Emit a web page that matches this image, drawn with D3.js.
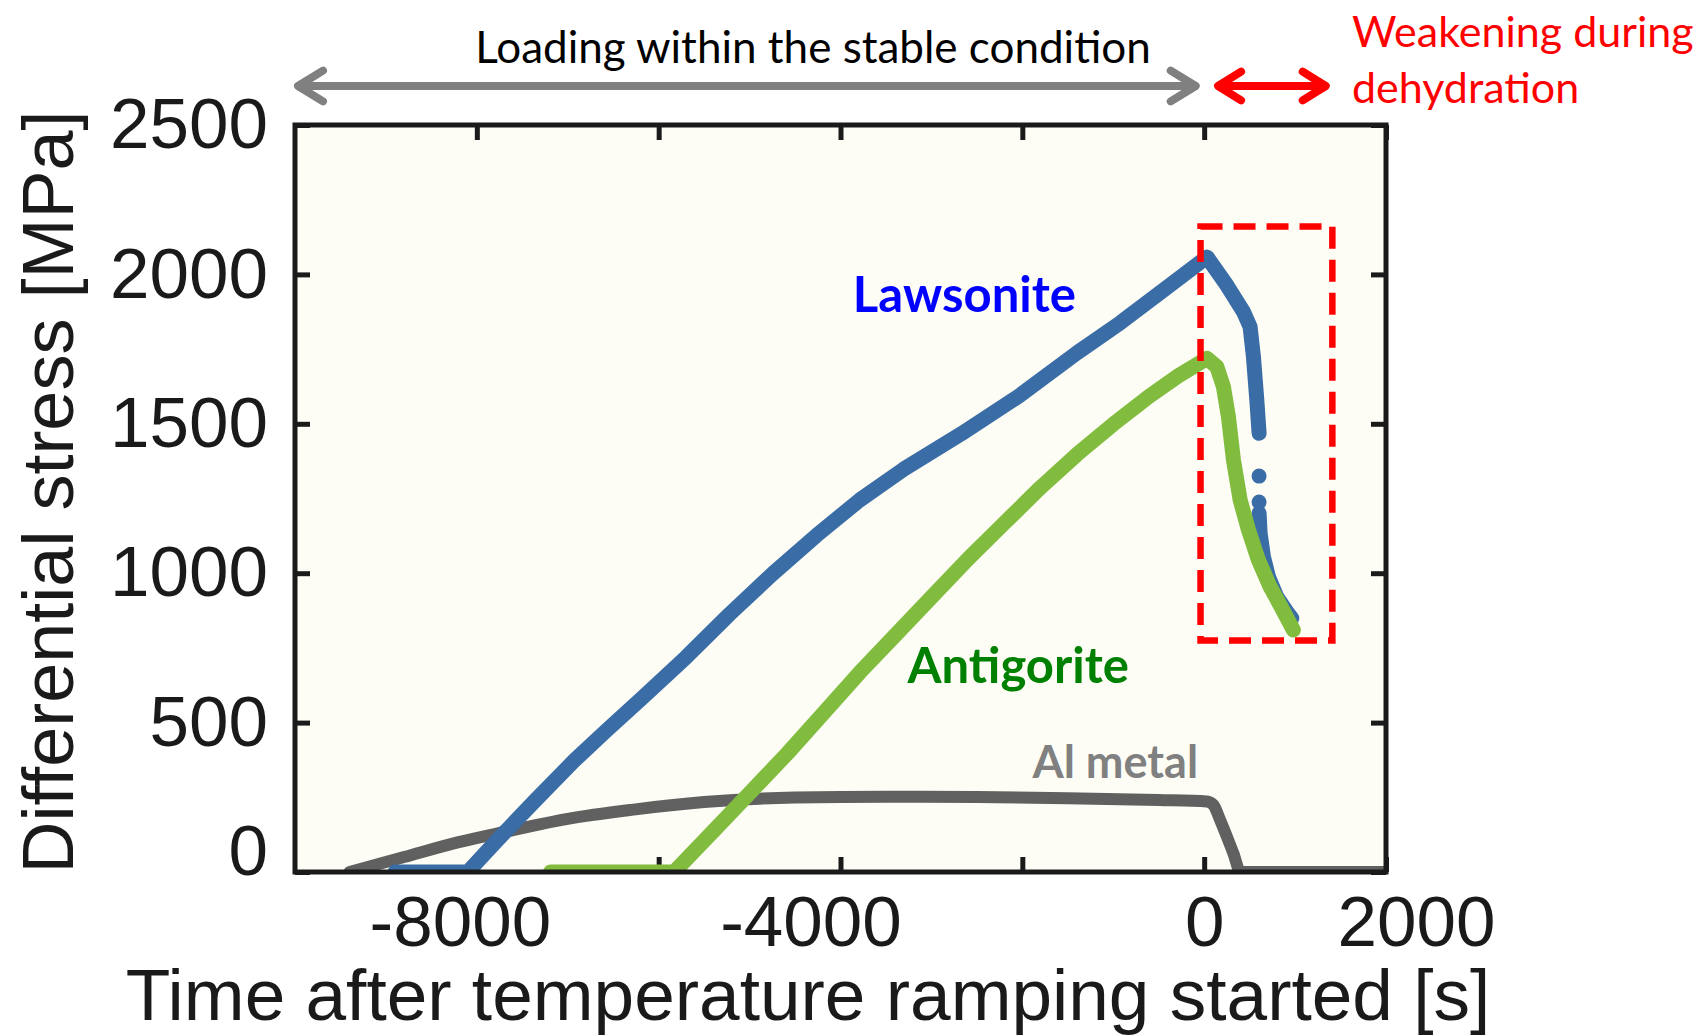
<!DOCTYPE html>
<html>
<head>
<meta charset="utf-8">
<script src="https://cdn.jsdelivr.net/npm/d3@7"></script>
<style>
  body { margin: 0; background: #fff; }
  svg text { font-family: "Liberation Sans", Arial, sans-serif; }
</style>
</head>
<body>
<div id="chart"></div>
<script>
// data (time in s, stress in MPa)
const lawsoniteTime = [-8900, -8100, -7767, -7369, -6931, -6573, -6176, -5698, -5220, -4743, -4266, -3788, -3311, -2674, -2037, -1401, -923, -446, 32, 249, 432, 505, 542, 579, 604, 604, 604, 615, 652, 707, 799, 909, 964]
const lawsoniteStress = [0, 0, 109, 236, 372, 474, 584, 719, 863, 999, 1126, 1245, 1347, 1466, 1593, 1737, 1838, 1948, 2058, 1964, 1875, 1825, 1724, 1580, 1468, null, 1201, 1134, 1055, 988, 921, 871, 849]
const lawsoniteDotTime = [604, 604]
const lawsoniteDotStress = [1325, 1238]

const antigoriteTime = [-7190, -5830, -5379, -4981, -4584, -4186, -3788, -3390, -2992, -2594, -2197, -1799, -1401, -1003, -606, -287, 32, 139, 212, 267, 322, 396, 487, 597, 725, 854, 981]
const antigoriteStress = [0, 0, 143, 270, 397, 532, 668, 795, 922, 1049, 1168, 1287, 1397, 1498, 1592, 1660, 1719, 1691, 1624, 1523, 1379, 1245, 1145, 1044, 955, 883, 810]

const alTime = [-9400, -8800, -8200, -7700, -7000, -6300, -5500, -4500, -3500, -2500, -1500, -500, 30, 100, 176, 322, 400, 2000]
const alStress = [0, 50, 100, 134, 178, 208, 234, 249, 252, 251, 247, 241, 236, 225, 174, 62, 0, 0]

const xTicks = [-8000, -6000, -4000, -2000, 0, 2000]
const xLabels = [-8000, -4000, 0, 2000]
const yTicks = [0, 500, 1000, 1500, 2000, 2500]

const w = 1701
const h = 1035
const plot = { left: 295, right: 1386, top: 125, bottom: 872 }
const ink = '#1a1a1a'

const xScale = d3.scaleLinear().domain([-10000, 2000]).range([plot.left, plot.right])
const yScale = d3.scaleLinear().domain([0, 2500]).range([plot.bottom, plot.top])

const svg = d3.select('#chart')
  .append('svg')
  .attr('width', w)
  .attr('height', h)

svg.append('rect')
  .attr('x', plot.left).attr('y', plot.top)
  .attr('width', plot.right - plot.left)
  .attr('height', plot.bottom - plot.top)
  .attr('fill', '#fdfdf6')

svg.append('clipPath').attr('id', 'clip')
  .append('rect')
  .attr('x', plot.left).attr('y', plot.top)
  .attr('width', plot.right - plot.left)
  .attr('height', plot.bottom - plot.top)

// ticks point inward on all four sides
const xNudge = { '-8000': -17, '-4000': -30, '0': 0, '2000': 30 }

function styleAxis(g) {
  g.select('.domain').remove()
  g.attr('color', ink)
  g.selectAll('line').attr('stroke-width', 5)
  g.selectAll('text').style('font-size', '71px').attr('fill', ink)
    .style('font-family', '"Liberation Sans", Arial, sans-serif')
}

svg.append('g')
  .attr('transform', `translate(0,${plot.bottom})`)
  .call(d3.axisBottom(xScale).tickValues(xTicks).tickSize(-15).tickPadding(24)
    .tickFormat(d => xLabels.includes(d) ? String(d) : ''))
  .call(styleAxis)
  .selectAll('text').attr('dx', d => xNudge[d] || 0)

svg.append('g')
  .attr('transform', `translate(0,${plot.top})`)
  .call(d3.axisTop(xScale).tickValues(xTicks).tickSize(-15).tickFormat(''))
  .call(styleAxis)

svg.append('g')
  .attr('transform', `translate(${plot.left},0)`)
  .call(d3.axisLeft(yScale).tickValues(yTicks).tickSize(-15).tickPadding(27)
    .tickFormat(d => String(d)))
  .call(styleAxis)
  .selectAll('text').attr('y', d => d === 0 ? -20 : 0)

svg.append('g')
  .attr('transform', `translate(${plot.right},0)`)
  .call(d3.axisRight(yScale).tickValues(yTicks).tickSize(-15).tickFormat(''))
  .call(styleAxis)

// series
const line = d3.line()
  .defined(d => d[1] != null)
  .x(d => xScale(d[0]))
  .y(d => yScale(d[1]))

const smoothLine = d3.line()
  .curve(d3.curveMonotoneX)
  .x(d => xScale(d[0]))
  .y(d => yScale(d[1]))

const lines = svg.append('g').attr('clip-path', 'url(#clip)')

const series = [
  { data: d3.zip(alTime, alStress), color: '#606060', width: 12, gen: smoothLine },
  { data: d3.zip(lawsoniteTime, lawsoniteStress), color: '#3a6ca6', width: 15, gen: line },
  { data: d3.zip(antigoriteTime, antigoriteStress), color: '#82bc3f', width: 15, gen: line }
]

lines.selectAll('path')
  .data(series)
  .enter()
  .append('path')
  .attr('d', d => d.gen(d.data))
  .attr('fill', 'none')
  .attr('stroke', d => d.color)
  .attr('stroke-width', d => d.width)
  .attr('stroke-linecap', 'round')
  .attr('stroke-linejoin', 'round')

lines.selectAll('circle')
  .data(d3.zip(lawsoniteDotTime, lawsoniteDotStress))
  .enter()
  .append('circle')
  .attr('cx', d => xScale(d[0]))
  .attr('cy', d => yScale(d[1]))
  .attr('r', 7.5)
  .attr('fill', '#3a6ca6')

// frame
svg.append('rect')
  .attr('x', plot.left).attr('y', plot.top)
  .attr('width', plot.right - plot.left)
  .attr('height', plot.bottom - plot.top)
  .attr('fill', 'none')
  .attr('stroke', ink)
  .attr('stroke-width', 5)

// dehydration window
svg.append('rect')
  .attr('x', xScale(-40))
  .attr('y', yScale(2160))
  .attr('width', xScale(1410) - xScale(-40))
  .attr('height', yScale(775) - yScale(2160))
  .attr('fill', 'none')
  .attr('stroke', '#ff0000')
  .attr('stroke-width', 6.5)
  .attr('stroke-dasharray', '22 11')

// series labels
const boldLabels = [
  { text: 'Lawsonite', t: -2637, s: 1874, color: '#0000ff', size: 49 },
  { text: 'Antigorite', t: -2045, s: 633, color: '#008000', size: 49 },
  { text: 'Al metal', t: -977, s: 315, color: '#808080', size: 45 }
]

svg.selectAll('.lbl')
  .data(boldLabels)
  .enter()
  .append('text')
  .attr('class', 'lbl')
  .attr('x', d => xScale(d.t))
  .attr('y', d => yScale(d.s))
  .attr('text-anchor', 'middle')
  .style('font-family', 'Lato, sans-serif')
  .style('font-weight', 'bold')
  .style('font-size', d => d.size + 'px')
  .attr('fill', d => d.color)
  .text(d => d.text)

// axis titles
svg.append('text')
  .attr('x', 808).attr('y', 1020)
  .attr('text-anchor', 'middle')
  .style('font-size', '73px')
  .attr('fill', ink)
  .text('Time after temperature ramping started [s]')

svg.append('text')
  .attr('transform', 'translate(73,492) rotate(-90)')
  .attr('text-anchor', 'middle')
  .style('font-size', '72px')
  .attr('fill', ink)
  .text('Differential stress [MPa]')

// double arrows above the plot
function doubleArrow(x1, x2, y, color, width, head) {
  const g = svg.append('g')
    .attr('fill', 'none')
    .attr('stroke', color)
    .attr('stroke-width', width)
    .attr('stroke-linejoin', 'round')
    .attr('stroke-linecap', 'round')
  g.append('line').attr('x1', x1 + 4).attr('x2', x2 - 4).attr('y1', y).attr('y2', y)
  g.append('path').attr('d', `M${x1 + head},${y - head * 0.55} L${x1 + 3},${y} L${x1 + head},${y + head * 0.55}`)
  g.append('path').attr('d', `M${x2 - head},${y - head * 0.55} L${x2 - 3},${y} L${x2 - head},${y + head * 0.55}`)
}

doubleArrow(xScale(-10000), xScale(-60), 86, '#808080', 8, 28)
doubleArrow(xScale(120), xScale(1370), 86, '#ff0000', 8, 26)

svg.append('text')
  .attr('x', 813).attr('y', 63)
  .attr('text-anchor', 'middle')
  .style('font-family', 'Lato, sans-serif')
  .style('font-size', '44px')
  .attr('fill', '#000')
  .text('Loading within the stable condition')

svg.append('text')
  .attr('x', 1352).attr('y', 47)
  .style('font-family', 'Lato, sans-serif')
  .style('font-size', '43px')
  .attr('fill', '#ff0000')
  .text('Weakening during')

svg.append('text')
  .attr('x', 1352).attr('y', 103)
  .style('font-family', 'Lato, sans-serif')
  .style('font-size', '43px')
  .attr('fill', '#ff0000')
  .text('dehydration')
</script>
</body>
</html>
